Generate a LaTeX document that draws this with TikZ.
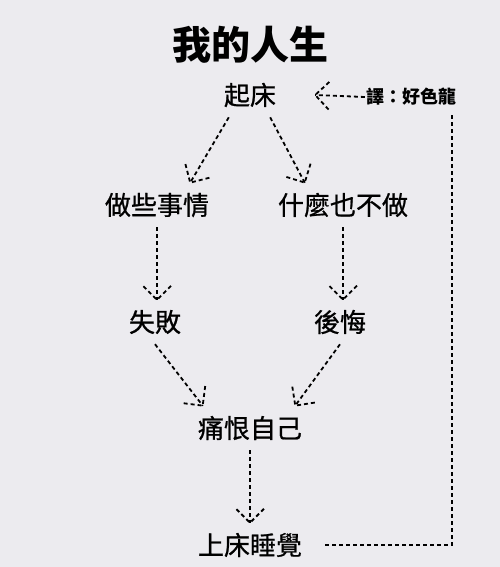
\documentclass[tikz,border=0pt]{standalone}
\usepackage{fontspec}
\newfontfamily\cjk{Noto Sans CJK TC}
\newfontfamily\cjkmid{Noto Sans CJK TC}[FakeBold=0.8]
\usetikzlibrary{decorations.markings}
\definecolor{paper}{RGB}{236,235,239}

\begin{document}
\begin{tikzpicture}[x=1pt,y=-1pt,font=\cjk,
  word/.style={font=\cjkmid\fontsize{26}{26}\selectfont,inner xsep=0pt,inner ysep=10pt},
  dotline/.style={line width=1.8pt,dash pattern=on 4pt off 3pt},
  dotarrow/.style={dotline,postaction={decorate},
    decoration={markings,mark=at position 1 with {\draw[dotline] (-14pt,14pt)--(0,0)--(-14pt,-14pt);}}}]
 \fill[paper] (0,0) rectangle (500,567);
 \node[font=\cjk\fontsize{39}{39}\selectfont\bfseries] (title) at (251,45) {我的人生};
 \node[word] (getup) at (250,95) {起床};
 \node[word] (doing) at (157,205) {做些事情};
 \node[word] (nothing) at (343,205) {什麼也不做};
 \node[word] (fail) at (155,322) {失敗};
 \node[word] (regret) at (340,322) {後悔};
 \node[word] (hate) at (250,428) {痛恨自己};
 \node[word] (sleep) at (250,545) {上床睡覺};
 \node[font=\cjk\fontsize{18}{18}\selectfont\bfseries,inner sep=2pt] (note) at (412,97) {譯：好色龍};
 \coordinate (turn) at (452,545);
 % arrows
 \draw[dotarrow] ([xshift=5pt]getup.south west)--([xshift=-19pt]doing.north east);
 \draw[dotarrow] ([xshift=-6pt]getup.south east)--([xshift=27pt]nothing.north west);
 \draw[dotarrow] (doing.south)--(doing.south |- fail.north);
 \draw[dotarrow] (nothing.south)--(nothing.south |- regret.north);
 \draw[dotarrow] (fail.south)--([xshift=5pt]hate.north west);
 \draw[dotarrow] (regret.south)--([xshift=-7pt]hate.north east);
 \draw[dotarrow] (hate.south)--(sleep.north);
 \draw[dotline] ([xshift=23pt]sleep.east)--(turn)--([yshift=-5pt]turn |- note.south);
 \draw[dotarrow] (note.west)--([xshift=39pt]getup.east);
\end{tikzpicture}
\end{document}
